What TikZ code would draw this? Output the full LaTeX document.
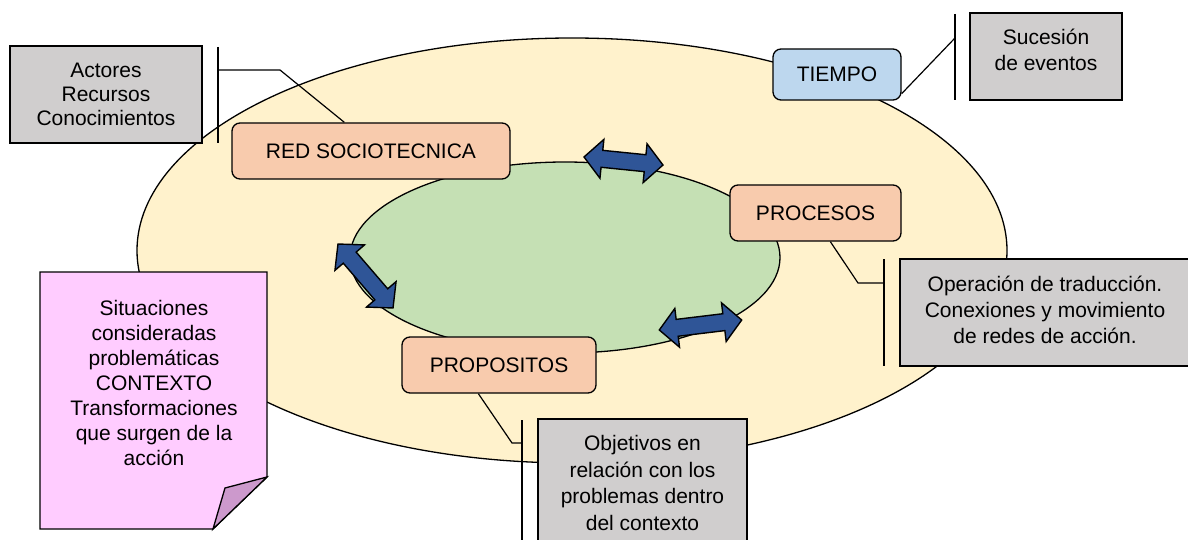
\documentclass[tikz,border=0pt]{standalone}
\usepackage{fontspec}
\setmainfont{Liberation Sans}
\usetikzlibrary{calc}
\definecolor{outerfill}{HTML}{FFF2CC}
\definecolor{innerfill}{HTML}{C5E0B4}
\definecolor{peach}{HTML}{F8CBAD}
\definecolor{skyfill}{HTML}{BDD7EE}
\definecolor{grayfill}{HTML}{D0CECE}
\definecolor{pinkfill}{HTML}{FFCCFF}
\definecolor{foldfill}{HTML}{CC99CC}
\definecolor{arrowblue}{HTML}{2F5597}
\tikzset{
  every node/.style={font=\fontsize{21}{26}\selectfont},
  outline/.style={draw=black, line width=1.3pt},
  roundbox/.style={outline, rounded corners=8pt, inner sep=0pt, align=center},
  peachbox/.style={roundbox, fill=peach},
  bluebox/.style={roundbox, fill=skyfill},
  graybox/.style={outline, fill=grayfill, inner sep=0pt, align=center},
  txt/.style={inner sep=0pt, align=center},
  link/.style={draw=black, line width=1.2pt},
  blockarrow/.style={draw=black, line width=1.4pt, fill=arrowblue, line join=miter}
}
\newcommand\dblblockarrow[3]{%
  \begin{scope}[shift={(#1)}, rotate=#2]
    \path[blockarrow] (-#3,0) -- ({-#3+18},19.5) -- ({-#3+18},8.5) -- ({#3-18},8.5)
      -- ({#3-18},19.5) -- (#3,0) -- ({#3-18},-19.5) -- ({#3-18},-8.5)
      -- ({-#3+18},-8.5) -- ({-#3+18},-19.5) -- cycle;
  \end{scope}}
\begin{document}
\begin{tikzpicture}[x=1pt, y=-1pt]
\useasboundingbox (0,0) rectangle (1188,540);
% ellipses
\path[outline, fill=outerfill] (572,250.5) ellipse [x radius=435pt, y radius=212.5pt];
\path[outline, fill=innerfill] (565,257.5) ellipse [x radius=215pt, y radius=95.5pt];

% block arrows
\dblblockarrow{623.5,161}{-5.8}{39.7}
\dblblockarrow{365.5,276}{-49.3}{42.2}
\dblblockarrow{700.5,325}{6.9}{41.5}

% main boxes
\node[peachbox, minimum width=278pt, minimum height=56pt] (red) at (371,151) {RED SOCIOTECNICA};
\node[bluebox, minimum width=128pt, minimum height=51pt] (tiempo) at (837,74.5) {TIEMPO};
\node[peachbox, minimum width=171pt, minimum height=56pt] (procesos) at (815.5,213) {PROCESOS};
\node[peachbox, minimum width=194pt, minimum height=56pt] (propositos) at (499,365) {PROPOSITOS};

% callout boxes
\node[graybox, minimum width=192pt, minimum height=97pt, font=\fontsize{21}{24}\selectfont] (actores) at (106,94.5) {Actores\\Recursos\\Conocimientos};
\node[graybox, minimum width=152pt, minimum height=87pt] (sucesion) at (1046,56.5) {};
\node[txt] (sucesiontxt) at (1046,50) {Sucesión\\de eventos};
\node[graybox, minimum width=300pt, minimum height=107pt] (operacion) at (1050,312.5) {};
\node[txt] (operaciontxt) at (1045,310) {Operación de traducción.\\Conexiones y movimiento\\de redes de acción.};
\node[graybox, minimum width=209pt, minimum height=140pt] (objetivos) at (642.5,489) {};
\node[txt, font=\fontsize{21}{26.7}\selectfont] (objetivostxt) at (642.5,483) {Objetivos en\\relación con los\\problemas dentro\\del contexto};

% callout bars and leader lines
\coordinate (barA1) at (218,47);
\coordinate (barA2) at (218,143);
\coordinate (kneeA) at (280,70);
\coordinate (endA) at (218,70);
\draw[link] (barA1) -- (barA2);
\draw[link] ($(red.north west)+(113,0)$) -- (kneeA) -- (endA);

\coordinate (barT1) at (955,14);
\coordinate (barT2) at (955,100);
\coordinate (endT) at (955,38);
\draw[link] (barT1) -- (barT2);
\draw[link] ($(tiempo.south east)+(0,-7)$) -- (endT);

\coordinate (barP1) at (884,259);
\coordinate (barP2) at (884,366);
\coordinate (kneeP) at (858,283);
\coordinate (endP) at (884,283);
\draw[link] (barP1) -- (barP2);
\draw[link] ($(procesos.south west)+(101,0)$) -- (kneeP) -- (endP);

\coordinate (barO1) at (522,420);
\coordinate (barO2) at (522,550);
\coordinate (kneeO) at (512,443);
\coordinate (endO) at (522,443);
\draw[link] (barO1) -- (barO2);
\draw[link] ($(propositos.south west)+(77,0)$) -- (kneeO) -- (endO);

% folded note
\coordinate (n1) at (40,272);
\coordinate (n2) at (267,272);
\coordinate (n3) at (267,477);
\coordinate (n4) at (213,529);
\coordinate (n5) at (40,529);
\coordinate (nf) at (225,488);
\path[outline, fill=pinkfill, line join=miter] (n1) -- (n2) -- (n3) -- (n4) -- (n5) -- cycle;
\path[outline, fill=foldfill, line join=miter] (n3) -- (nf) -- (n4) -- cycle;
\node[txt, font=\fontsize{21}{25}\selectfont] (situaciones) at (154,383) {Situaciones\\consideradas\\problemáticas\\CONTEXTO\\Transformaciones\\que surgen de la\\acción};
\end{tikzpicture}
\end{document}
